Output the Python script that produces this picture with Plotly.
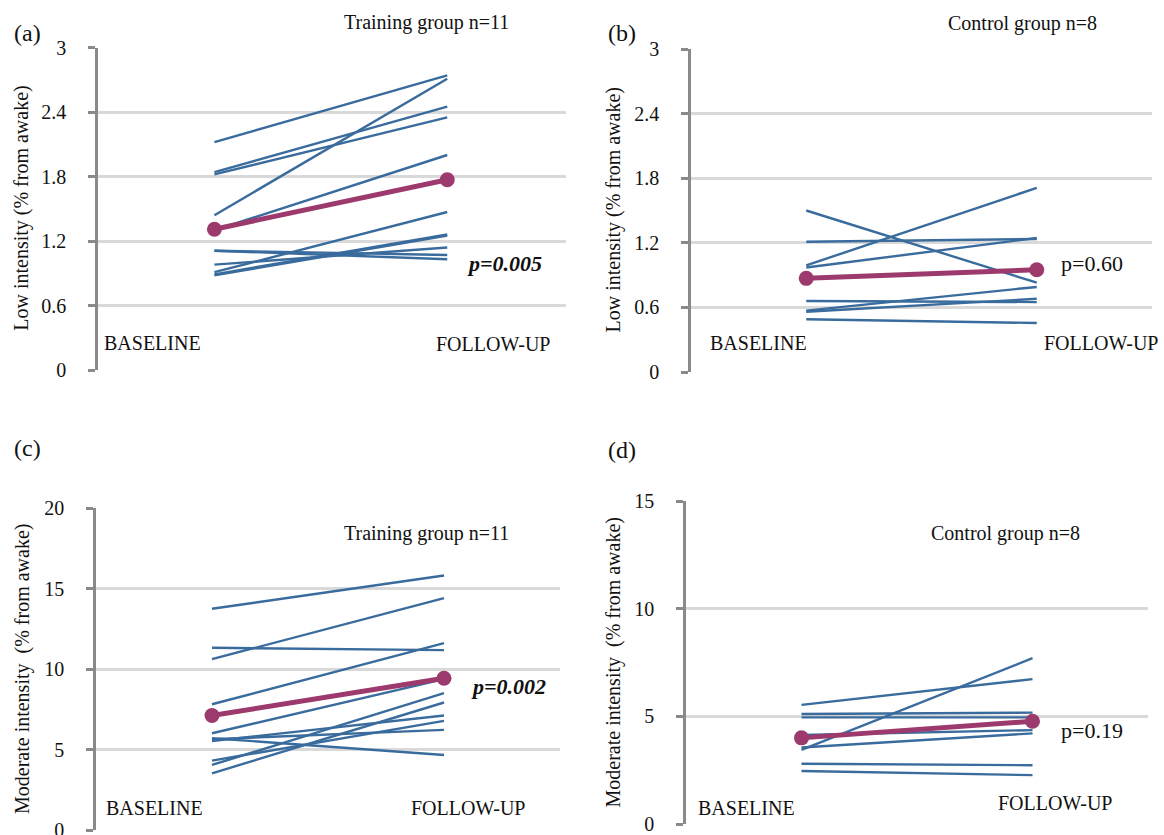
import plotly.graph_objects as go

# ---------------- data ----------------
categories = ["BASELINE", "FOLLOW-UP"]

# (a) Low intensity, training group n=11
a_baseline = [2.12, 1.84, 1.82, 1.44, 1.30, 1.11, 1.11, 0.98, 0.91, 0.89, 0.88]
a_followup = [2.74, 2.45, 2.35, 2.71, 2.00, 1.07, 1.03, 1.14, 1.47, 1.26, 1.25]
a_mean = [1.31, 1.77]

# (b) Low intensity, control group n=8
b_baseline = [1.50, 1.21, 0.99, 0.97, 0.66, 0.57, 0.56, 0.49]
b_followup = [0.83, 1.235, 1.71, 1.245, 0.65, 0.79, 0.68, 0.455]
b_mean = [0.87, 0.95]

# (c) Moderate intensity, training group n=11
c_baseline = [13.74, 10.61, 11.32, 7.81, 6.01, 5.70, 5.64, 5.53, 4.31, 4.04, 3.52]
c_followup = [15.81, 14.40, 11.17, 11.61, 9.37, 4.66, 6.22, 7.11, 6.78, 8.50, 7.92]
c_mean = [7.11, 9.43]

# (d) Moderate intensity, control group n=8
d_baseline = [5.53, 5.11, 4.95, 4.13, 3.55, 3.44, 2.80, 2.46]
d_followup = [6.73, 5.17, 4.95, 4.36, 4.21, 7.70, 2.73, 2.27]
d_mean = [4.00, 4.77]

panel_letters = ["(a)", "(b)", "(c)", "(d)"]
group_labels = ["Training group n=11", "Control group n=8",
                "Training group n=11", "Control group n=8"]
p_values = ["<b><i>p=0.005</i></b>", "p=0.60", "<b><i>p=0.002</i></b>", "p=0.19"]
y_titles = ["Low intensity (% from awake)", "Low intensity (% from awake)",
            "Moderate intensity  (% from awake)", "Moderate intensity  (% from awake)"]
y_ranges = [[0, 3], [0, 3], [0, 20], [0, 15]]
y_dticks = [0.6, 0.6, 5, 5]

# ---------------- style ----------------
W, H = 1164, 835
BLUE = "#3A6B9D"
MAGENTA = "#9C3A6D"
GRID = "#D9D9D9"
AXIS = "#8A8A8A"
FONT = "Liberation Serif"


def px(x):
    return x / W


def py(y):
    return 1 - y / H


# panel geometry in pixels: (left, right, top, bottom), x range
panels = [
    dict(l=98, r=566, t=47.5, b=370, xr=[-0.5, 1.51]),
    dict(l=691, r=1152, t=49, b=372, xr=[-0.5, 1.5]),
    dict(l=96, r=560, t=508, b=830, xr=[-0.5, 1.5]),
    dict(l=686, r=1148, t=501, b=824, xr=[-0.5, 1.5]),
]

# text positions (pixels)
letter_pos = [(27, 33), (622, 33), (27, 448), (622, 450)]
group_pos = [(426, 23), (1022, 24), (426, 533), (1005, 533)]
base_pos = [(152, 343), (758, 343), (154, 808), (746, 808)]
follow_pos = [(493, 344), (1101, 343), (468, 808), (1055, 803)]
p_pos = [(504, 263), (1092, 263), (508, 686), (1092, 730)]
ytitle_x = [22, 613, 22, 613]

data_sets = [
    (a_baseline, a_followup, a_mean),
    (b_baseline, b_followup, b_mean),
    (c_baseline, c_followup, c_mean),
    (d_baseline, d_followup, d_mean),
]

fig = go.Figure()
annotations = []

for i, (base, follow, mean) in enumerate(data_sets):
    k = "" if i == 0 else str(i + 1)
    xa, ya = "x" + k, "y" + k
    for b0, f0 in zip(base, follow):
        fig.add_trace(go.Scatter(
            x=categories, y=[b0, f0], mode="lines",
            line=dict(color=BLUE, width=2.4),
            xaxis=xa, yaxis=ya, showlegend=False, hoverinfo="skip"))
    fig.add_trace(go.Scatter(
        x=categories, y=mean, mode="lines+markers",
        line=dict(color=MAGENTA, width=5),
        marker=dict(color=MAGENTA, size=15),
        xaxis=xa, yaxis=ya, showlegend=False, hoverinfo="skip"))

    p = panels[i]
    fig.layout["xaxis" + k] = dict(
        domain=[px(p["l"]), px(p["r"])], range=p["xr"], type="category",
        visible=False, anchor=ya, fixedrange=True, automargin=False)
    fig.layout["yaxis" + k] = dict(
        domain=[py(p["b"]), py(p["t"])], range=y_ranges[i], dtick=y_dticks[i],
        tick0=0, anchor=xa, showgrid=True, gridcolor=GRID, gridwidth=2.5,
        zeroline=False, showline=True, linecolor=AXIS, linewidth=2.5,
        ticks="outside", ticklen=7, tickwidth=2.5, tickcolor=AXIS,
        ticklabelstandoff=18, automargin=False, ticklabeloverflow="allow",
        tickfont=dict(family=FONT, size=20, color="#111111"),
        fixedrange=True)

    def ann(text, pos, size, **kw):
        annotations.append(dict(
            text=text, x=px(pos[0]), y=py(pos[1]), xref="paper", yref="paper",
            showarrow=False, xanchor="center", yanchor="middle",
            font=dict(family=FONT, size=size, color="#111111"), **kw))

    ann(panel_letters[i], letter_pos[i], 24)
    ann(group_labels[i], group_pos[i], 20)
    ann(categories[0], base_pos[i], 20)
    ann(categories[1], follow_pos[i], 20)
    ann(p_values[i], p_pos[i], 22)
    cy = (panels[i]["t"] + panels[i]["b"]) / 2
    ann(y_titles[i], (ytitle_x[i], cy), 20, textangle=-90)

fig.update_layout(
    width=W, height=H, autosize=False,
    margin=dict(l=0, r=0, t=0, b=0, pad=0, autoexpand=False),
    paper_bgcolor="white", plot_bgcolor="white",
    annotations=annotations, showlegend=False)

fig.write_html(
    "out.html",
    config={"displayModeBar": False},
    post_script="document.body.style.margin='0px';document.body.style.overflow='hidden';")
